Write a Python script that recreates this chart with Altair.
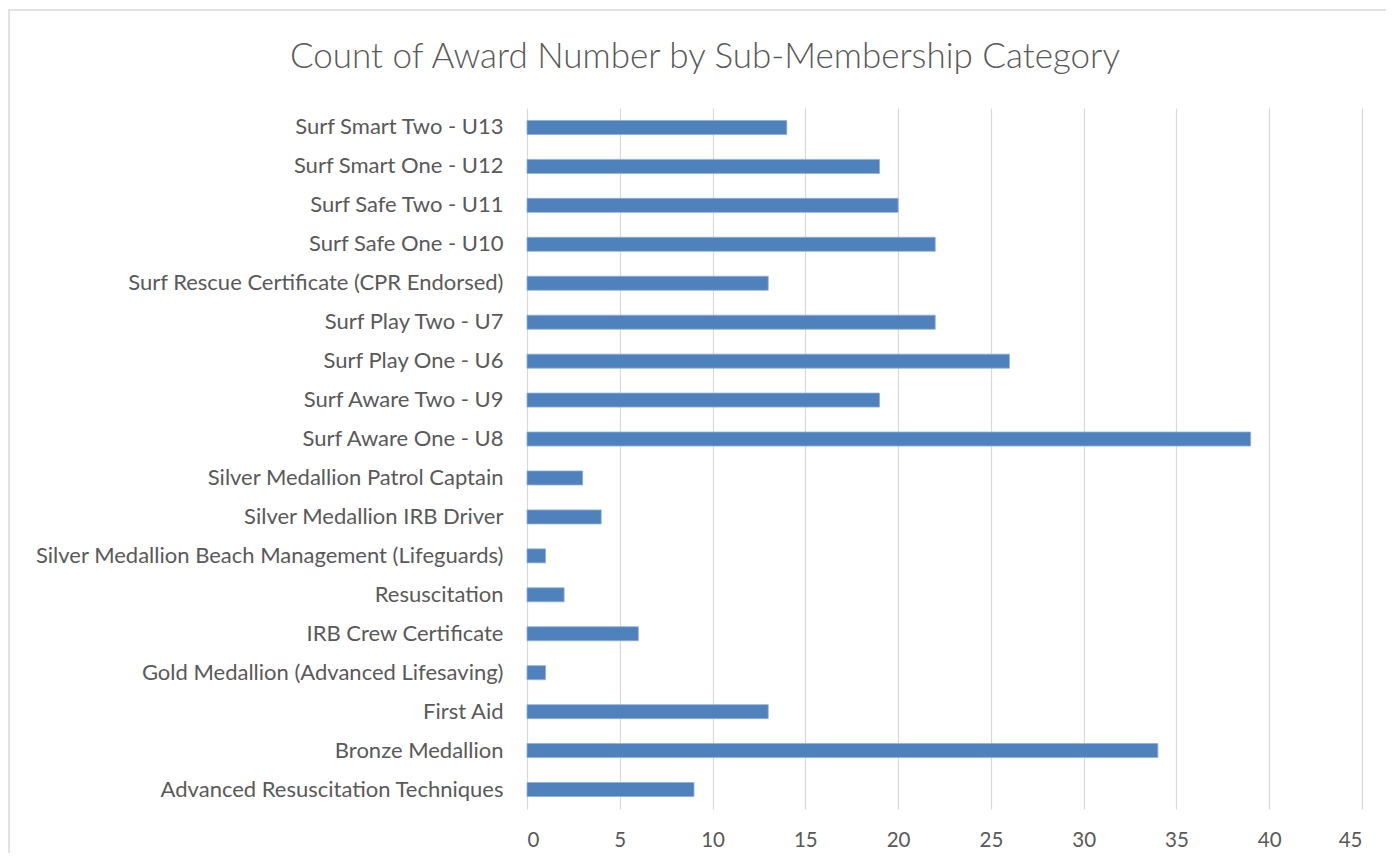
import altair as alt
import pandas as pd

categories = [
    "Surf Smart Two - U13",
    "Surf Smart One - U12",
    "Surf Safe Two - U11",
    "Surf Safe One - U10",
    "Surf Rescue Certificate (CPR Endorsed)",
    "Surf Play Two - U7",
    "Surf Play One - U6",
    "Surf Aware Two - U9",
    "Surf Aware One - U8",
    "Silver Medallion Patrol Captain",
    "Silver Medallion IRB Driver",
    "Silver Medallion Beach Management (Lifeguards)",
    "Resuscitation",
    "IRB Crew Certificate",
    "Gold Medallion (Advanced Lifesaving)",
    "First Aid",
    "Bronze Medallion",
    "Advanced Resuscitation Techniques",
]
counts = [14, 19, 20, 22, 13, 22, 26, 19, 39, 3, 4, 1, 2, 6, 1, 13, 34, 9]
x_ticks = [0, 5, 10, 15, 20, 25, 30, 35, 40, 45]
title_text = "Count of Award Number by Sub-Membership Category"

df = pd.DataFrame({"category": categories, "count": counts})

FONT = "Lato"
TEXT = "#595959"

one = pd.DataFrame({"a": [0]})

frame = alt.Chart(one).mark_rect(
    fill=None, stroke="#D9D9D9", strokeWidth=1.5
).encode(
    x=alt.value(-518), x2=alt.value(900),
    y=alt.value(-98), y2=alt.value(800),
)

title = alt.Chart(one).mark_text(
    text=title_text, font=FONT, fontSize=35, fontWeight=300, color=TEXT,
    align="center", baseline="middle",
).encode(x=alt.value(178), y=alt.value(-51))

bars = alt.Chart(df).mark_bar(
    color="#4F81BD", stroke="#8EB0DA", strokeWidth=0.8
).encode(
    x=alt.X("count:Q",
            scale=alt.Scale(domain=[0, 45], nice=False, zero=True),
            axis=alt.Axis(values=x_ticks, title=None, grid=True, gridColor="#D9D9D9",
                          gridWidth=1.2, domain=False, ticks=False,
                          labelFont=FONT, labelFontSize=20.5, labelColor=TEXT,
                          labelPadding=21)),
    y=alt.Y("category:N", sort=categories,
            scale=alt.Scale(paddingInner=0.64, paddingOuter=0.32),
            axis=alt.Axis(title=None, domain=False, ticks=False, grid=False,
                          labelFont=FONT, labelFontSize=22, labelColor=TEXT,
                          labelPadding=24, labelLimit=600)),
)

chart = alt.layer(frame, bars, title).properties(
    width=835, height=701,
    autosize=alt.AutoSizeParams(type="none"),
    padding={"left": 519, "top": 100, "right": 24, "bottom": 44},
).configure_view(stroke=None)

chart.save("out.html", embed_options={"renderer": "svg", "actions": False})
